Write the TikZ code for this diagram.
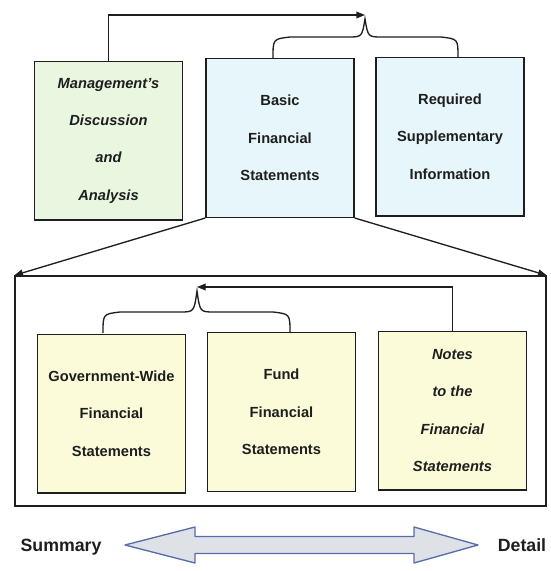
\documentclass[tikz,border=0pt]{standalone}
\usepackage{fontspec}
\setmainfont{Liberation Sans}
\usetikzlibrary{arrows.meta}

\definecolor{mdagreen}{RGB}{233,247,225}
\definecolor{bscyan}{RGB}{230,246,250}
\definecolor{lowyellow}{RGB}{251,251,218}
\definecolor{arrowgray}{RGB}{222,226,230}
\definecolor{arrowblue}{RGB}{88,108,172}
\definecolor{inkgray}{RGB}{30,30,30}

\tikzset{every picture/.style={line width=0.75pt}}

\begin{document}
\begin{tikzpicture}[x=0.75pt,y=0.75pt,yscale=-1,xscale=1,
	box/.style={draw=inkgray, line width=1pt, inner sep=0pt, align=center,
		minimum width=111pt, minimum height=119pt, text=inkgray,
		font=\bfseries\fontsize{11}{28}\selectfont},
	link/.style={draw=inkgray, line width=1pt, -{Triangle[length=6.5pt,width=5pt]}},
	brace/.style={draw=inkgray, line width=1pt},
	side/.style={text=inkgray, font=\bfseries\fontsize{13.3}{16}\selectfont}]
\useasboundingbox (0,0) rectangle (550,571);

% Top row
\node[box, fill=mdagreen] (mda) at (108.5,140.5) {\itshape Management's\\ \itshape Discussion\\ \itshape and\\ \itshape Analysis};
\node[box, fill=bscyan] (basic) at (280,138) {Basic\\ Financial\\ Statements};
\node[box, fill=bscyan] (rsi) at (450,136.5) {Required\\ Supplementary\\ Information};

% Outer frame
\node[draw=inkgray, line width=1pt, minimum width=398.25pt, minimum height=172.5pt, inner sep=0pt] (outer) at (280.5,391) {};

% Bottom row
\node[box, fill=lowyellow] (gov) at (111.5,413.5) {Government-Wide\\ Financial\\ Statements};
\node[box, fill=lowyellow] (fund) at (281.5,412) {Fund\\ Financial\\ Statements};
\node[box, fill=lowyellow] (notes) at (452.5,410.5) {\itshape Notes\\ \itshape to the\\ \itshape Financial\\ \itshape Statements};

% Brace tips
\coordinate (toptip) at (365,15);
\coordinate (lowtip) at (197,287);

%Straight Lines
\draw[link] (mda.north) |- (toptip);
\draw[link] (notes.north) |- (lowtip);
\draw[link] (basic.south west) -- (outer.north west);
\draw[link] (basic.south east) -- (outer.north east);

%Curve Lines
\draw[brace] (273,58) .. controls (273,39) .. (290,37) -- (348,37) .. controls (362,37) .. (365,19) .. controls (368,37) .. (382,37) -- (441,37) .. controls (458,39) .. (458,57);
\draw[brace] (103,333) .. controls (103,314) .. (120,312) -- (180,312) .. controls (194,312) .. (197,291) .. controls (200,312) .. (214,312) -- (273,312) .. controls (290,314) .. (290,333);

%Shape: Double Arrow
\draw[line width=1pt, draw=arrowblue, fill=arrowgray, line join=round] (125,545) -- (195,527) -- (195,536.5) -- (414,536.5) -- (414,527) -- (478,545) -- (414,563) -- (414,553.5) -- (195,553.5) -- (195,563) -- cycle;

% Text Node
\node[side] (summary) at (61,547) {Summary};
% Text Node
\node[side] (detail) at (522,545) {Detail};

\end{tikzpicture}
\end{document}
